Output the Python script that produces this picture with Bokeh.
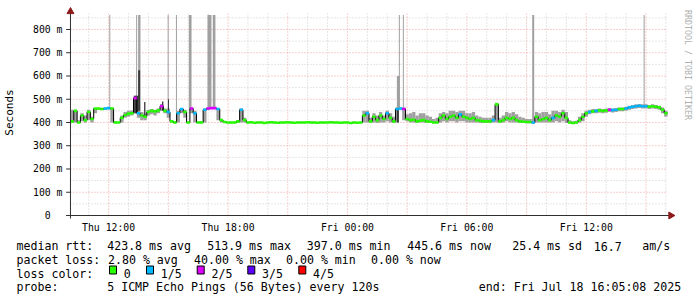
import numpy as np
from bokeh.plotting import figure
from bokeh.models import Range1d, FixedTicker
from bokeh.layouts import column, row
from bokeh.embed import file_html
from bokeh.resources import INLINE
from bokeh.core.properties import value

# ---------------- data (minutes after Thu 10:05:08, 10-minute steps) ----------------
STEP = 10
median = [
    405, 450, 400, 430, 410, 445, 415, 460, 460, 458,
    460, 462, 460, 400, 400, 420, 432, 438, 440, 505,
    440, 430, 425, 445, 450, 448, 452, 470, 450, 445,
    405, 400, 440, 458, 445, 400, 460, 440, 400, 400,
    455, 460, 462, 462, 458, 410, 402, 400, 400, 400,
    405, 455, 410, 400, 401, 399, 400, 400, 398, 400,
    401, 400, 399, 400, 400, 401, 400, 399, 400, 400,
    400, 401, 400, 400, 399, 400, 400, 400, 401, 400,
    400, 399, 400, 400, 398, 400, 399, 400, 430, 440,
    405, 425, 410, 430, 415, 440, 420, 405, 458, 460,
    458, 415, 410, 412, 405, 408, 410, 405, 403, 400,
    400, 420, 430, 415, 425, 430, 420, 435, 425, 420,
    415, 420, 410, 408, 405, 405, 405, 410, 478, 405,
    410, 420, 415, 420, 410, 405, 403, 402, 402, 400,
    425, 410, 415, 420, 410, 420, 430, 425, 440, 420,
    400, 398, 400, 410, 425, 440, 445, 448, 450, 452,
    450, 452, 455, 453, 455, 458, 458, 460, 465, 468,
    470, 472, 470, 470, 468, 470, 468, 465, 455, 440,
]
smoke_hi = [
    455, 455, 410, 440, 430, 455, 425, 462, 462, 462,
    465, 465, 465, 405, 402, 430, 445, 450, 452, 515,
    515, 445, 440, 455, 458, 455, 460, 480, 460, 460,
    410, 405, 450, 462, 455, 405, 465, 450, 405, 405,
    460, 465, 465, 465, 462, 415, 405, 403, 403, 403,
    410, 460, 420, 403, 403, 402, 403, 403, 402, 403,
    403, 403, 402, 403, 403, 403, 403, 402, 403, 403,
    403, 403, 403, 403, 402, 403, 403, 403, 403, 403,
    403, 402, 403, 403, 402, 403, 402, 403, 450, 450,
    420, 440, 430, 445, 430, 450, 440, 425, 465, 465,
    465, 435, 440, 445, 430, 440, 440, 430, 425, 415,
    420, 440, 445, 440, 450, 450, 445, 450, 450, 440,
    440, 445, 430, 425, 420, 420, 420, 430, 485, 420,
    430, 445, 440, 445, 435, 425, 420, 415, 415, 415,
    445, 440, 445, 445, 435, 450, 450, 445, 455, 445,
    410, 405, 408, 425, 440, 450, 455, 458, 458, 460,
    458, 460, 462, 460, 462, 465, 465, 468, 472, 475,
    478, 480, 478, 478, 475, 478, 475, 472, 465, 450,
]
smoke_lo = [
    398, 400, 397, 405, 400, 410, 400, 440, 455, 455,
    455, 458, 400, 397, 397, 400, 420, 425, 430, 440,
    420, 410, 410, 430, 435, 430, 440, 450, 440, 420,
    400, 397, 400, 440, 420, 397, 440, 400, 397, 397,
    400, 455, 458, 458, 410, 400, 398, 397, 397, 397,
    398, 400, 400, 397, 397, 396, 397, 397, 395, 397,
    397, 397, 396, 397, 397, 397, 397, 396, 397, 397,
    397, 397, 397, 397, 396, 397, 397, 397, 397, 397,
    397, 396, 397, 397, 395, 397, 396, 397, 400, 400,
    398, 400, 398, 400, 400, 405, 400, 398, 400, 455,
    410, 405, 400, 400, 398, 400, 400, 398, 398, 397,
    397, 400, 405, 400, 405, 405, 400, 405, 405, 400,
    400, 400, 400, 398, 398, 398, 398, 400, 400, 398,
    400, 405, 400, 400, 400, 398, 398, 397, 397, 395,
    400, 400, 400, 400, 400, 400, 405, 400, 405, 398,
    396, 395, 396, 400, 405, 425, 435, 440, 440, 442,
    440, 442, 445, 443, 445, 448, 448, 450, 455, 458,
    460, 462, 460, 460, 458, 460, 458, 455, 440, 425,
]
# lost pings (out of 5) per step
loss = [int(c) for c in (
    "0000000000" "1100000002" "1000000201" "0011002100" "1222100000"
    "0100000000" "0000000000" "0000000000" "0000000001" "0000010011"
    "2000000000" "0000000100" "0000000100" "0000000001" "0000010000"
    "0000001010" "0021100111" "1111000000"
)]
# outlier smoke (light), minutes after start
spike_start = [117, 198, 204, 293, 318, 357, 413, 429, 984, 990, 1002, 1392, 1728]
spike_end = [120, 201, 211, 296, 321, 365, 425, 437, 993, 993, 1005, 1398, 1731]
spike_lo = [455, 440, 440, 440, 440, 455, 460, 460, 455, 455, 455, 400, 465]
spike_hi = [862, 862, 862, 862, 862, 862, 862, 862, 600, 862, 862, 862, 862]
# dense smoke (dark)
dark_start = [192, 204, 222, 276, 294, 984]
dark_end = [204, 210, 226, 280, 297, 990]
dark_lo = [440, 450, 420, 450, 440, 400]
dark_hi = [515, 625, 488, 490, 500, 460]

x_tick_pos = [115, 475, 835, 1195, 1555]
x_tick_labels = ["Thu 12:00", "Thu 18:00", "Fri 00:00", "Fri 06:00", "Fri 12:00"]
y_tick_vals = [0, 100, 200, 300, 400, 500, 600, 700, 800]
y_tick_labels = ["0\u00a0\u00a0", "100 m", "200 m", "300 m", "400 m", "500 m",
                 "600 m", "700 m", "800 m"]

loss_colors = ["#26ff00", "#00b8ff", "#dd00ff", "#5e00ff", "#ff0000"]
loss_labels = ["0", "1/5", "2/5", "3/5", "4/5"]

rtt_fields = ["median rtt:", "423.8 ms avg", "513.9 ms max", "397.0 ms min",
              "445.6 ms now", "25.4 ms sd", "16.7", "am/s"]
pl_fields = ["packet loss:", "2.80 % avg", "40.00 % max", "0.00 % min", "0.00 % now"]
probe_fields = ["probe:", "5 ICMP Echo Pings (56 Bytes) every 120s",
                "end: Fri Jul 18 16:05:08 2025"]
credit = "RRDTOOL / TOBI OETIKER"

# ---------------- main plot ----------------
MONO = "DejaVu Sans Mono"
t = np.arange(len(median)) * STEP
t_end = t + STEP
T_END = len(median) * STEP

p = figure(width=680, height=235, output_backend="svg", toolbar_location=None,
           x_range=Range1d(-18, 1824), y_range=Range1d(-17.2, 903.2))
p.min_border = 0
p.min_border_left = 61
p.min_border_right = 5
p.min_border_top = 5
p.min_border_bottom = 16
p.outline_line_color = None
p.background_fill_color = "white"
p.border_fill_color = "white"
p.grid.visible = False

# grid
hours = 55 + 60 * np.arange(30)
major_h = [h for k, h in enumerate(hours) if k % 3 == 1]
minor_h = [h for k, h in enumerate(hours) if k % 3 != 1]
GRID_TOP = 868
p.segment(x0=minor_h, y0=0, x1=minor_h, y1=GRID_TOP, line_color="#cccccc",
          line_dash="1 2", line_width=1)
p.segment(x0=major_h, y0=0, x1=major_h, y1=GRID_TOP, line_color="#eea0a0",
          line_dash="1 2", line_width=1)
hv = np.arange(50, 851, 50)
p.segment(x0=0, y0=[v for v in hv if v % 100], x1=T_END, y1=[v for v in hv if v % 100],
          line_color="#cccccc", line_dash="1 2", line_width=1)
p.segment(x0=0, y0=[v for v in hv if v % 100 == 0], x1=T_END,
          y1=[v for v in hv if v % 100 == 0],
          line_color="#eea0a0", line_dash="1 2", line_width=1)

# smoke
p.quad(left=t, right=t_end, bottom=smoke_lo, top=smoke_hi, fill_color="#a0a0a0",
       line_color=None)
p.quad(left=spike_start, right=spike_end, bottom=spike_lo, top=spike_hi,
       fill_color="#a0a0a0", line_color=None)
p.quad(left=dark_start, right=dark_end, bottom=dark_lo, top=dark_hi,
       fill_color="#3a3a3a", line_color=None)

# median
p.step(x=list(t) + [T_END], y=median + [median[-1]], mode="after",
       line_color="#000000", line_width=1)
p.segment(x0=t, y0=median, x1=t_end, y1=median,
          line_color=[loss_colors[l] for l in loss], line_width=2.6)

# axis lines, ticks, arrows
AX = "#303030"
p.segment(x0=[-13], y0=[0], x1=[1809], y1=[0], line_color=AX, line_width=1)
p.segment(x0=[0], y0=[-13], x1=[0], y1=[876], line_color=AX, line_width=1)
p.segment(x0=-13, y0=y_tick_vals, x1=0, y1=y_tick_vals, line_color=AX, line_width=1)
p.scatter(x=[0], y=[877], marker="triangle", size=7, fill_color="#8e1b1b",
          line_color="#8e1b1b")
p.scatter(x=[1810], y=[0], marker="triangle", size=7, angle=-np.pi / 2,
          fill_color="#8e1b1b", line_color="#8e1b1b")

for ax in (p.xaxis[0], p.yaxis[0]):
    ax.axis_line_color = None
    ax.major_tick_line_color = None
    ax.minor_tick_line_color = None
    ax.major_tick_out = 0
    ax.major_tick_in = 0
    ax.minor_tick_out = 0
    ax.minor_tick_in = 0
    ax.major_label_text_font = MONO
    ax.major_label_text_font_size = "9.8px"
    ax.major_label_text_color = "#000000"

p.xaxis[0].ticker = FixedTicker(ticks=x_tick_pos)
p.xaxis[0].major_label_overrides = {k: v for k, v in zip(x_tick_pos, x_tick_labels)}
p.xaxis[0].major_label_standoff = 2
p.yaxis[0].ticker = FixedTicker(ticks=y_tick_vals)
p.yaxis[0].major_label_overrides = {k: v for k, v in zip(y_tick_vals, y_tick_labels)}
p.yaxis[0].major_label_standoff = 2
p.yaxis[0].axis_label = "Seconds"
p.yaxis[0].axis_label_text_font = MONO
p.yaxis[0].axis_label_text_font_size = "11px"
p.yaxis[0].axis_label_text_font_style = "normal"
p.yaxis[0].axis_label_text_color = "#000000"
p.yaxis[0].axis_label_standoff = 14

# ---------------- side credit ----------------
side = figure(width=17, height=235, output_backend="svg", toolbar_location=None,
              x_range=Range1d(0, 17), y_range=Range1d(235, 0),
              x_axis_location=None, y_axis_location=None)
side.min_border = 0
side.outline_line_color = None
side.grid.visible = False
side.text(x=[7.5], y=[5], text=[credit], angle=-np.pi / 2,
          text_font=value(MONO), text_font_size=value("8.3px"),
          text_color="#b0b0b0", text_align="left", text_baseline="middle")

# ---------------- legend text ----------------
leg = figure(width=697, height=62, output_backend="svg", toolbar_location=None,
             x_range=Range1d(0, 697), y_range=Range1d(297, 235),
             x_axis_location=None, y_axis_location=None)
leg.min_border = 0
leg.outline_line_color = None
leg.grid.visible = False

def put(xs, y, texts):
    leg.text(x=xs, y=[y] * len(xs), text=texts, text_font=value(MONO),
             text_font_size=value("11.6px"), text_color="#000000",
             text_align="left", text_baseline="alphabetic")

put([16, 106.7, 206.7, 306.3, 406.7, 511.7, 593.3, 641.7], 245.7, rtt_fields)
put([16, 107.5, 193.5, 285.5, 370.5], 259.4, pl_fields)
put([16], 273.3, ["loss color:"])
sw_left = [109, 146, 196.7, 247.3, 298.3]
leg.quad(left=sw_left, right=[s + 7 for s in sw_left], top=265.5, bottom=273.5,
         fill_color=loss_colors, line_color="#000000", line_width=1)
put([s + 14.3 for s in sw_left], 273.3, loss_labels)
put([16, 106.7, 478.3], 286.7, probe_fields)

layout = column(row(p, side, spacing=0), leg, spacing=0)
open("out.html", "w").write(file_html(layout, INLINE))
